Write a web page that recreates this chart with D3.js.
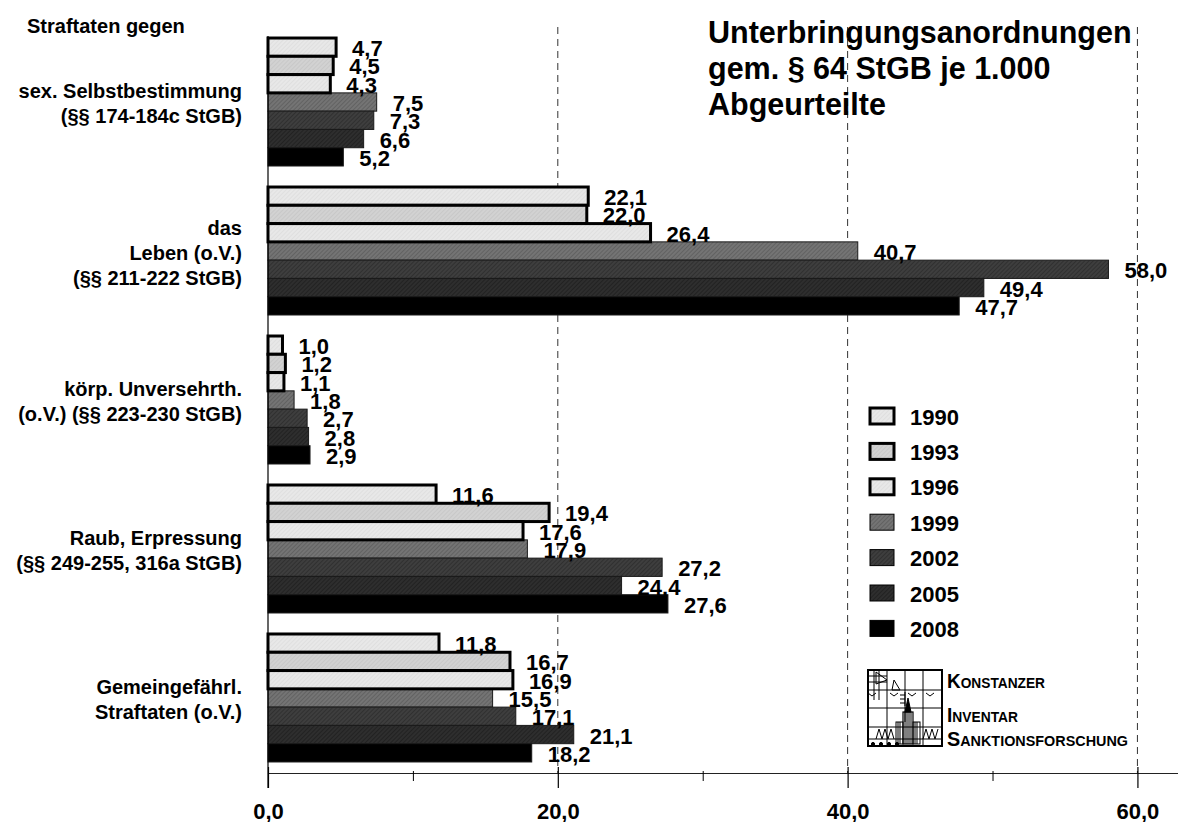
<!DOCTYPE html>
<html>
<head>
<meta charset="utf-8">
<script src="https://cdn.jsdelivr.net/npm/d3@7"></script>
<style>
  body { margin: 0; background: #fff; }
  svg { display: block; }
  text { font-family: "Liberation Sans", Arial, sans-serif; font-weight: bold; fill: #000; }
</style>
</head>
<body>
<svg id="chart" width="1178" height="822"></svg>
<script>
// Offence groups (label lines) and survey years
const categories = [
  ["sex. Selbstbestimmung", "(§§ 174-184c StGB)"],
  ["das", "Leben (o.V.)", "(§§ 211-222 StGB)"],
  ["körp. Unversehrth.", "(o.V.) (§§ 223-230 StGB)"],
  ["Raub, Erpressung", "(§§ 249-255, 316a StGB)"],
  ["Gemeingefährl.", "Straftaten (o.V.)"]
];
const years = ["1990", "1993", "1996", "1999", "2002", "2005", "2008"];

// Placement orders per 1,000 convicted persons, one array per year (same order as categories)
const values1990 = [4.7, 22.1, 1.0, 11.6, 11.8];
const values1993 = [4.5, 22.0, 1.2, 19.4, 16.7];
const values1996 = [4.3, 26.4, 1.1, 17.6, 16.9];
const values1999 = [7.5, 40.7, 1.8, 17.9, 15.5];
const values2002 = [7.3, 58.0, 2.7, 27.2, 17.1];
const values2005 = [6.6, 49.4, 2.8, 24.4, 21.1];
const values2008 = [5.2, 47.7, 2.9, 27.6, 18.2];

const xTicksMajor = [0, 20, 40, 60];
const xTicksMinor = [10, 30, 50];

const titleLines = ["Unterbringungsanordnungen", "gem. § 64 StGB je 1.000", "Abgeurteilte"];
const groupHeading = "Straftaten gegen";
const logoLines = ["Konstanzer", "Inventar", "Sanktionsforschung"];

// Visual styling per year
const baseFill  = ["#e8e8e8", "#d2d2d2", "#e8e8e8", "#747474", "#3e3e3e", "#2e2e2e", "#000000"];
const hatchFill = ["#dfdfdf", "#c8c8c8", "#dfdfdf", "#626262", "#303030", "#222222", "#000000"];
const strokeW   = [3, 3, 3, 1, 1, 1, 1];

const seriesValues = [values1990, values1993, values1996, values1999, values2002, values2005, values2008];
const rows = [];
categories.forEach((c, ci) => {
  years.forEach((y, yi) => rows.push({ ci, yi, year: y, value: seriesValues[yi][ci] }));
});

const svg = d3.select("#chart");
const de = d3.formatLocale({ decimal: ",", thousands: ".", grouping: [3], currency: ["", " €"] });
const fmt = de.format(".1f");

// Scales
const x = d3.scaleLinear().domain([0, 62.8]).range([268, 1178]);
const y0 = d3.scaleBand().domain(d3.range(categories.length)).range([27, 773])
  .paddingInner(0.141).paddingOuter(0.074);
const y1 = d3.scaleBand().domain(d3.range(years.length)).range([0, y0.bandwidth()]).padding(0);
const axisY = 773;

// Fill patterns with a fine diagonal hatch
const defs = svg.append("defs");
years.forEach((yr, i) => {
  const p = defs.append("pattern").attr("id", "fill" + yr)
    .attr("patternUnits", "userSpaceOnUse").attr("width", 3).attr("height", 3)
    .attr("patternTransform", "rotate(45)");
  p.append("rect").attr("width", 3).attr("height", 3).attr("fill", baseFill[i]);
  p.append("rect").attr("width", 1).attr("height", 3).attr("fill", hatchFill[i]);
});

// Dashed gridlines at major ticks (except zero)
svg.append("g").selectAll("line").data(xTicksMajor.filter(d => d > 0)).join("line")
  .attr("x1", d => x(d)).attr("x2", d => x(d))
  .attr("y1", 27).attr("y2", axisY)
  .attr("stroke", "#333").attr("stroke-width", 1).attr("stroke-dasharray", "7,5");

// Bars: thin-bordered ones first, heavy-bordered ones on top
const barG = svg.append("g");
const ordered = rows.slice().sort((a, b) => strokeW[a.yi] - strokeW[b.yi]);
barG.selectAll("rect").data(ordered).join("rect")
  .attr("x", x(0))
  .attr("y", d => y0(d.ci) + y1(d.yi))
  .attr("width", d => x(d.value) - x(0))
  .attr("height", y1.bandwidth())
  .attr("fill", d => "url(#fill" + d.year + ")")
  .attr("stroke", d => strokeW[d.yi] > 1 ? "#000" : "#1a1a1a")
  .attr("stroke-width", d => strokeW[d.yi]);

// Value labels
svg.append("g").selectAll("text").data(rows).join("text")
  .attr("x", d => x(d.value) + 16)
  .attr("y", d => y0(d.ci) + y1(d.yi) + y1.bandwidth() / 2 + 9)
  .attr("font-size", 22)
  .text(d => fmt(d.value));

// Vertical axis line
svg.append("line").attr("x1", x(0)).attr("x2", x(0)).attr("y1", 36).attr("y2", axisY + 15)
  .attr("stroke", "#000").attr("stroke-width", 1.2);

// Horizontal axis: minor ticks
const minorAxis = svg.append("g").attr("transform", `translate(0,${axisY})`)
  .call(d3.axisBottom(x).tickValues(xTicksMinor).tickSize(8).tickSizeOuter(0).tickFormat(""));
minorAxis.selectAll(".tick line").attr("y1", -2).attr("stroke", "#000");
minorAxis.select(".domain").attr("stroke", "#222");

// Horizontal axis: major ticks with labels
const majorAxis = svg.append("g").attr("transform", `translate(0,${axisY})`)
  .call(d3.axisBottom(x).tickValues(xTicksMajor).tickSize(15).tickSizeOuter(0).tickPadding(15).tickFormat(fmt));
majorAxis.select(".domain").remove();
majorAxis.selectAll(".tick line").attr("y1", -6).attr("stroke", "#000").attr("stroke-width", 1.2);
majorAxis.selectAll(".tick text").attr("font-size", 22).attr("font-family", "Liberation Sans, Arial, sans-serif")
  .attr("font-weight", "bold").attr("fill", "#000");

// Category labels, right-aligned left of the axis
const catG = svg.append("g");
categories.forEach((lines, ci) => {
  const cy = y0(ci) + y0.bandwidth() / 2;
  lines.forEach((ln, li) => {
    catG.append("text")
      .attr("x", 242).attr("text-anchor", "end")
      .attr("y", cy + (li - (lines.length - 1) / 2) * 25 + 8.5)
      .attr("font-size", 20)
      .text(ln);
  });
});
svg.append("text").attr("x", 27).attr("y", 33).attr("font-size", 20).text(groupHeading);

// Title
svg.append("g").selectAll("text").data(titleLines).join("text")
  .attr("x", 708).attr("y", (d, i) => 43 + i * 36)
  .attr("font-size", 30.5)
  .text(d => d);

// Legend
const legend = svg.append("g");
years.forEach((yr, i) => {
  const cy = 416 + i * 35.4;
  legend.append("rect").attr("x", 870).attr("y", cy - 8).attr("width", 24).attr("height", 16)
    .attr("fill", "url(#fill" + yr + ")")
    .attr("stroke", "#000").attr("stroke-width", strokeW[i] > 1 ? 3 : 1);
  legend.append("text").attr("x", 910).attr("y", cy + 8.5).attr("font-size", 22).text(yr);
});

// Institute logo: line-drawing emblem with small-caps name
const logo = svg.append("g").attr("fill", "none").attr("stroke", "#000").attr("stroke-width", 1);
const L = 868, T = 670, W = 74, H = 76;
logo.append("rect").attr("x", L).attr("y", T).attr("width", W).attr("height", H).attr("stroke-width", 2);
[[887, T, 887, T + H], [905, T, 905, T + 52], [923, T, 923, T + H],
 [L, 690, L + W, 690], [L, 708, L + W, 708], [L, 727, L + W, 727], [L, 739, L + W, 739],
 [874, T, 874, 700], [879, T, 879, 700], [L, 676, 887, 676], [L, 682, 887, 682],
 [905, 692, 905, 706], [900, 695, 905, 695], [900, 699, 905, 699], [900, 703, 905, 703]]
  .forEach(s => logo.append("line").attr("x1", s[0]).attr("y1", s[1]).attr("x2", s[2]).attr("y2", s[3]));
logo.append("path").attr("d", "M876,672 L887,680 L876,684 Z");
logo.append("path").attr("d", "M894,680 L900,690 L892,690 Z");
logo.append("path").attr("d", `M${L},693 l4,3 l4,-3 M890,693 l4,3 l4,-3 M908,693 l4,3 l4,-3 M926,693 l4,3 l4,-3`);
// Tower
logo.append("path").attr("d", "M905,712 L908,698 L911,712 Z").attr("fill", "#000");
logo.append("rect").attr("x", 903).attr("y", 712).attr("width", 10).attr("height", 32).attr("stroke-width", 1.2);
[905, 907, 909, 911].forEach(v => logo.append("line").attr("x1", v).attr("y1", 712).attr("x2", v).attr("y2", 744));
logo.append("rect").attr("x", 896).attr("y", 722).attr("width", 7).attr("height", 22);
logo.append("rect").attr("x", 913).attr("y", 722).attr("width", 7).attr("height", 22);
[898, 900, 915, 917].forEach(v => logo.append("line").attr("x1", v).attr("y1", 722).attr("x2", v).attr("y2", 744));
logo.append("path").attr("d", "M876,739 l3,-10 l3,10 l3,-10 l3,10 l3,-10 l3,10 M923,739 l3,-10 l3,10 l3,-10 l3,10 l3,-10");
[873, 881, 889, 897].forEach(v => logo.append("circle").attr("cx", v).attr("cy", 744).attr("r", 1.6).attr("fill", "#000"));

const logoText = svg.append("g");
const logoBase = [688, 722, 746];
const logoWidth = [98, 71, 181];
logoLines.forEach((ln, i) => {
  const t = logoText.append("text").attr("x", 947).attr("y", logoBase[i])
    .attr("textLength", logoWidth[i]).attr("lengthAdjust", "spacingAndGlyphs")
    .attr("font-weight", "bold");
  t.append("tspan").attr("font-size", 20).text(ln[0].toUpperCase());
  t.append("tspan").attr("font-size", 14.5).text(ln.slice(1).toUpperCase());
});
</script>
</body>
</html>
